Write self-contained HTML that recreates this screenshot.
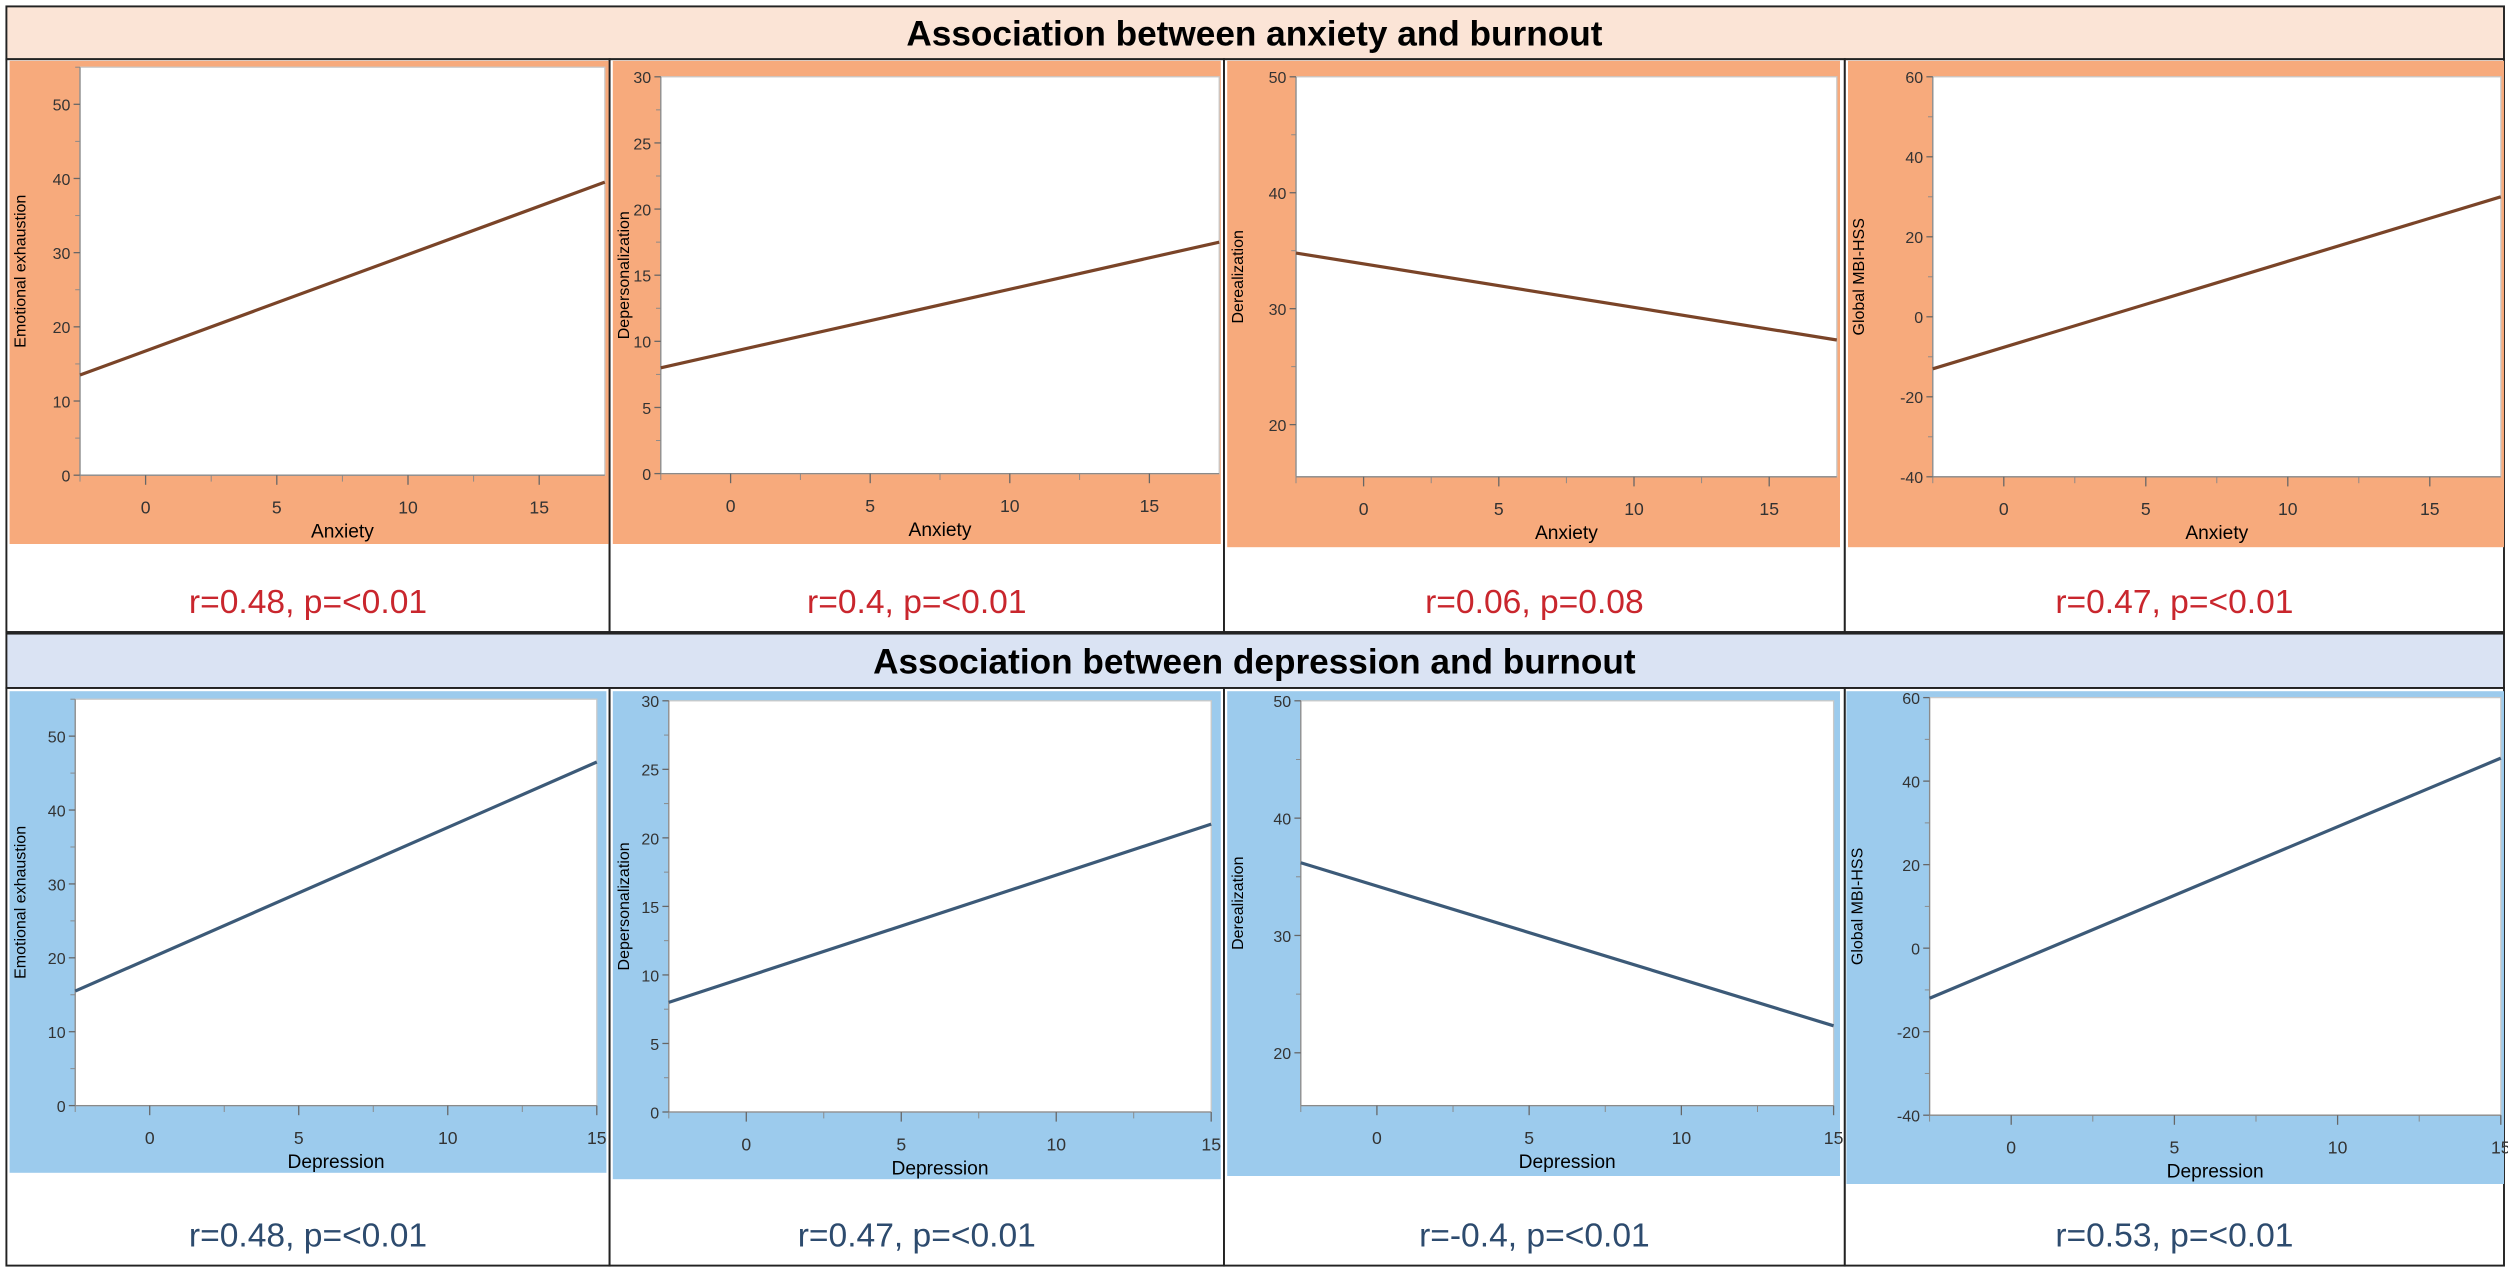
<!DOCTYPE html>
<html><head><meta charset="utf-8"><style>
html,body{margin:0;padding:0;background:#fff;width:2508px;height:1270px;overflow:hidden}
svg{display:block}
</style></head><body>
<svg id="fig" width="2508" height="1270" viewBox="0 0 2508 1270" xmlns="http://www.w3.org/2000/svg">
<g id="root" transform="scale(1.6)"></g>
</svg>
<script>
// ---- data ----
const rowTitles = ["Association between anxiety and burnout", "Association between depression and burnout"];
const xLabels = ["Anxiety", "Depression"];
const yLabels = ["Emotional exhaustion", "Depersonalization", "Derealization", "Global MBI-HSS"];
const xTicks = [0, 5, 10, 15];
const yTicksByCol = [[0,10,20,30,40,50],[0,5,10,15,20,25,30],[20,30,40,50],[-40,-20,0,20,40,60]];
const yDomains = [[0,55],[0,30],[15.5,50],[-40,60]];
const xDomainAnx = [-2.5, 17.5];
const xDomainDep = [-2.5, 15];
// fitted line endpoints (y at x-domain start, y at x-domain end)
const anxStart = [13.5, 8, 34.8, -13];
const anxEnd = [39.5, 17.5, 27.3, 30];
const depStart = [15.5, 8, 36.2, -12];
const depEnd = [46.5, 21, 22.3, 45.5];
const statsAnx = ["r=0.48, p=<0.01","r=0.4, p=<0.01","r=0.06, p=0.08","r=0.47, p=<0.01"];
const statsDep = ["r=0.48, p=<0.01","r=0.47, p=<0.01","r=-0.4, p=<0.01","r=0.53, p=<0.01"];

// ---- layout (display units, scaled by 1.6) ----
const NS = "http://www.w3.org/2000/svg";
const root = document.getElementById('root');
function el(tag, attrs, parent){ const e=document.createElementNS(NS,tag); for(const k in attrs) e.setAttribute(k,attrs[k]); (parent||root).appendChild(e); return e; }

const colX = [4, 381, 765, 1153, 1565];
const rows = [
  {band:[4,37], cell:[37,395], panelBg:"#f7aa7c", bandBg:"#fbe4d6", line:"#7a4428", txt:"#c9262d", xl:xLabels[0], xd:xDomainAnx, s:anxStart, e:anxEnd, st:statsAnx,
   panels:[[6,38,375,302,50,42,378,297],[383,38,380,302,413,48,762,296],[767,38,383,304,810,48,1148,298],[1155,38,410,304,1208,48,1563,298]]},
  {band:[396,430], cell:[430,791], panelBg:"#9ccbed", bandBg:"#dae3f3", line:"#3c5a78", txt:"#2d4b6e", xl:xLabels[1], xd:xDomainDep, s:depStart, e:depEnd, st:statsDep,
   panels:[[6,432,373,301,47,437,373,691],[383,432,380,305,418,438,757,695],[767,432,383,303,813,438,1146,691],[1154,432,411,308,1206,436,1563,697]]}
];

rows.forEach((r,ri)=>{
  const band = el('rect',{x:4,y:r.band[0],width:1561,height:r.band[1]-r.band[0],fill:r.bandBg,stroke:'#222','stroke-width':1.2});
  
  
  const t = el('text',{x:784,y:(r.band[0]+r.band[1])/2+8,'text-anchor':'middle','font-family':'Liberation Sans, sans-serif','font-weight':'bold','font-size':22,fill:'#000'});
  t.textContent = rowTitles[ri];
  
  
  r.panels.forEach((p,ci)=>{
    const g = el('g',{});
    
    
    const cell = el('rect',{x:colX[ci],y:r.cell[0],width:colX[ci+1]-colX[ci],height:r.cell[1]-r.cell[0],fill:'#fff',stroke:'#222','stroke-width':1.2},g);
    
    
    const [px,py,pw,ph,x0,y0,x1,y1] = p;
    const bg = el('rect',{x:px,y:py,width:pw,height:ph,fill:r.panelBg},g);
    
    
    const plot = el('rect',{x:x0,y:y0,width:x1-x0,height:y1-y0,fill:'#fff',stroke:'#c9c9c9','stroke-width':0.8},g);
    
    
    const yd = yDomains[ci], xd = r.xd;
    const sx = v => x0 + (v-xd[0])/(xd[1]-xd[0])*(x1-x0);
    const sy = v => y1 - (v-yd[0])/(yd[1]-yd[0])*(y1-y0);
    el('line',{x1:x0,y1:y1,x2:x1,y2:y1,stroke:'#8a8a8a','stroke-width':0.8},g);
    el('line',{x1:x0,y1:y0,x2:x0,y2:y1,stroke:'#8a8a8a','stroke-width':0.8},g);
    const yt = yTicksByCol[ci];
    const step = yt[1]-yt[0];
    yt.forEach((v,i)=>{
      const y = sy(v);
      el('line',{x1:x0-4,y1:y,x2:x0,y2:y,stroke:'#666','stroke-width':0.8},g);
      const tl = el('text',{x:x0-6,y:y+4,'text-anchor':'end','font-family':'Liberation Sans, sans-serif','font-size':10,fill:'#333'},g);
      tl.textContent = v;
      
      
      const m = v+step/2;
      if(m<=yd[1]) el('line',{x1:x0-3,y1:sy(m),x2:x0,y2:sy(m),stroke:'#888','stroke-width':0.6},g);
    });
    xTicks.forEach(v=>{
      const x = sx(v);
      el('line',{x1:x,y1:y1,x2:x,y2:y1+6,stroke:'#666','stroke-width':0.8},g);
      const tl = el('text',{x:x,y:y1+24,'text-anchor':'middle','font-family':'Liberation Sans, sans-serif','font-size':11,fill:'#333'},g);
      tl.textContent = v;
      
      
      [v-2.5].forEach(m=>{ if(m>=xd[0]) el('line',{x1:sx(m),y1:y1,x2:sx(m),y2:y1+4,stroke:'#888','stroke-width':0.6},g); });
    });
    const xt = el('text',{x:(x0+x1)/2,y:y1+39,'text-anchor':'middle','font-family':'Liberation Sans, sans-serif','font-size':12,fill:'#000'},g);
    xt.textContent = r.xl;
    
    
    const ytx = px+10, yty=(y0+y1)/2;
    const yl = el('text',{x:ytx,y:yty,'text-anchor':'middle','font-family':'Liberation Sans, sans-serif','font-size':10,fill:'#000',transform:`rotate(-90 ${ytx} ${yty})`},g);
    yl.textContent = yLabels[ci];
    
    
    const ln = el('line',{x1:sx(xd[0]),y1:sy(r.s[ci]),x2:sx(xd[1]),y2:sy(r.e[ci]),stroke:r.line,'stroke-width':2},g);
    
    
    const stt = el('text',{x:(colX[ci]+colX[ci+1])/2,y:r.cell[1]-12,'text-anchor':'middle','font-family':'Liberation Sans, sans-serif','font-size':21,fill:r.txt},g);
    stt.textContent = r.st[ci];
    
    
  });
});
</script>
</body></html>
